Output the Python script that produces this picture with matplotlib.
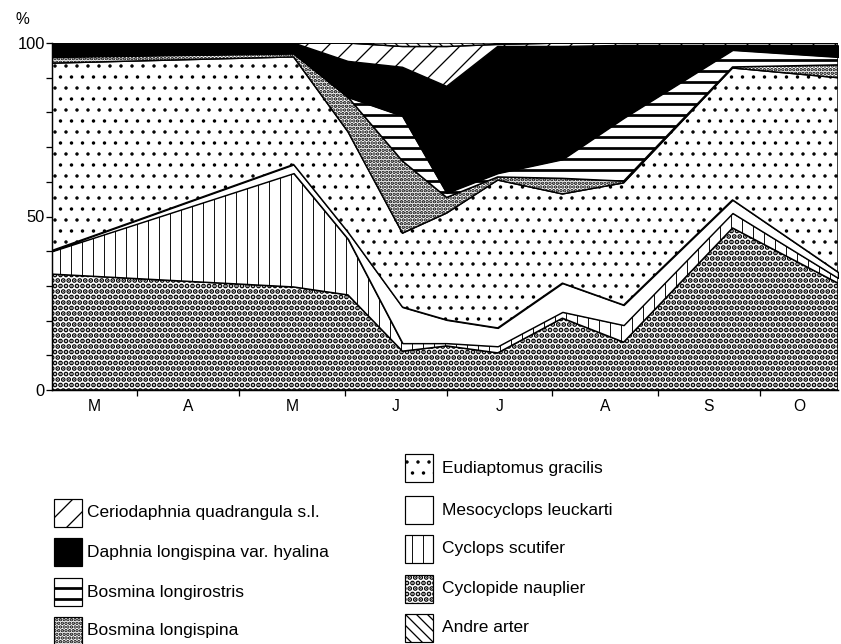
import matplotlib
matplotlib.use("Agg")
import matplotlib.pyplot as plt
from matplotlib.patches import Rectangle
import numpy as np

DPI = 66
W, H = 841, 644
plt.rcParams['font.family'] = ['Liberation Sans', 'DejaVu Sans']
plt.rcParams['hatch.color'] = 'black'

# Sampling dates as day of year
sample_days = [66, 137, 153, 169, 182, 197, 216, 234, 266, 297]

# Share of each group (%) on every sampling date
nauplier = [33.4, 29.7, 27.4, 11.2, 12.7, 10.7, 20.7, 13.8, 46.7, 30.8]
cyclops_scutifer = [6.6, 32.8, 16.1, 2.3, 0.8, 1.9, 1.8, 4.9, 4.3, 1.5]
mesocyclops = [0.2, 2.5, 2.0, 10.4, 6.7, 5.3, 8.3, 5.8, 3.8, 1.7]
eudiaptomus = [54.0, 31.0, 28.9, 21.3, 30.8, 42.6, 25.7, 35.2, 38.0, 56.0]
bosmina_longispina = [1.8, 1.0, 10.0, 20.8, 4.5, 0.9, 4.5, 0.5, 0.3, 3.7]
bosmina_longirostris = [0.0, 0.0, 0.0, 13.0, 1.3, 1.1, 5.5, 18.2, 4.9, 2.3]
daphnia = [3.8, 3.0, 10.3, 14.0, 30.7, 36.5, 32.5, 20.9, 1.3, 3.3]
ceriodaphnia = [0.2, 0.0, 5.3, 6.0, 11.5, 0.6, 1.0, 0.7, 0.7, 0.7]
andre_arter = [0.0, 0.0, 0.0, 1.0, 1.0, 0.4, 0.0, 0.0, 0.0, 0.0]

# Month boundaries (day of year) and month initials
month_starts = [91, 121, 152, 182, 213, 244, 274]
month_labels = ['M', 'A', 'M', 'J', 'J', 'A', 'S', 'O']

# name, values, face colour, hatch, hatch line width (pt)
layers = [
    ('Cyclopide nauplier', nauplier, 'white', '..', 3.8),
    ('Cyclops scutifer', cyclops_scutifer, 'white', '|', 1.0),
    ('Mesocyclops leuckarti', mesocyclops, 'white', None, 1.0),
    ('Eudiaptomus gracilis', eudiaptomus, 'white', '.', 1.3),
    ('Bosmina longispina', bosmina_longispina, 'white', '...', 2.6),
    ('Bosmina longirostris', bosmina_longirostris, 'white', '-', 3.0),
    ('Daphnia longispina var. hyalina', daphnia, 'black', None, 1.0),
    ('Ceriodaphnia quadrangula s.l.', ceriodaphnia, 'white', '/', 1.4),
    ('Andre arter', andre_arter, 'white', '\\\\', 1.4),
]
style = {name: (fc, h, hlw) for name, _, fc, h, hlw in layers}


def hatched(make, lw):
    """Create an artist whose hatch lines use their own width."""
    plt.rcParams['hatch.linewidth'] = lw
    artist = make()
    if hasattr(artist, 'set_hatch_linewidth'):
        artist.set_hatch_linewidth(lw)
    original = artist.draw

    def draw(renderer, *args, **kwargs):
        with plt.rc_context({'hatch.linewidth': lw}):
            return original(renderer, *args, **kwargs)

    artist.draw = draw
    return artist


fig = plt.figure(figsize=(W / DPI, H / DPI), dpi=DPI)
ax = fig.add_axes([52 / W, 1 - 390 / H, 786 / W, 347 / H])

x = np.array(sample_days, dtype=float)
base = np.zeros_like(x)
for name, vals, fc, hatch, hlw in layers:
    top = base + np.array(vals)
    hatched(lambda: ax.fill_between(x, base, top, facecolor=fc,
                                    edgecolor='black', linewidth=1.6,
                                    hatch=hatch), hlw)
    base = top

ax.set_xlim(sample_days[0], sample_days[-1])
ax.set_ylim(0, 100)
for s in ('top', 'right'):
    ax.spines[s].set_visible(False)
for s in ('left', 'bottom'):
    ax.spines[s].set_linewidth(1.6)

ax.set_yticks([0, 50, 100])
ax.set_yticks(np.arange(10, 100, 10), minor=True)
ax.tick_params(axis='y', which='both', direction='out', length=7, width=1.4,
               labelsize=18, pad=1)

edges = [sample_days[0]] + month_starts + [sample_days[-1]]
centres = [(a + b) / 2 for a, b in zip(edges[:-1], edges[1:])]
ax.set_xticks(month_starts)
ax.set_xticklabels([])
ax.set_xticks(centres, minor=True)
ax.set_xticklabels(month_labels, minor=True)
ax.tick_params(axis='x', which='major', direction='out', length=6, width=1.4)
ax.tick_params(axis='x', which='minor', length=0, labelsize=17, pad=10)

fig.text(22 / W, 1 - 20 / H, '%', fontsize=17, ha='center', va='center')

# Legend drawn on an overlay in pixel units
lax = fig.add_axes([0, 0, 1, 1])
lax.set_xlim(0, W)
lax.set_ylim(H, 0)
lax.axis('off')

left_col = ['Ceriodaphnia quadrangula s.l.', 'Daphnia longispina var. hyalina',
            'Bosmina longirostris', 'Bosmina longispina']
left_y = [513, 552, 592, 631]
right_col = ['Eudiaptomus gracilis', 'Mesocyclops leuckarti', 'Cyclops scutifer',
             'Cyclopide nauplier', 'Andre arter']
right_y = [468, 510, 549, 589, 628]

box = 28
for names, ys, bx, tx in ((left_col, left_y, 54, 87), (right_col, right_y, 405, 442)):
    for name, yc in zip(names, ys):
        fc, hatch, hlw = style[name]
        hatched(lambda: lax.add_patch(Rectangle((bx, yc - box / 2), box, box,
                                                facecolor=fc, edgecolor='black',
                                                linewidth=1.3, hatch=hatch)), hlw)
        lax.text(tx, yc, name, fontsize=19, ha='left', va='center')

fig.savefig('out.png', dpi=DPI)
